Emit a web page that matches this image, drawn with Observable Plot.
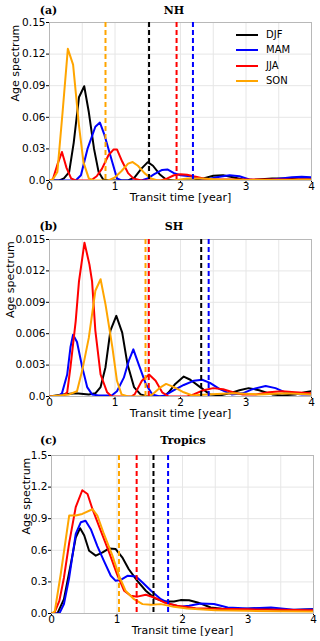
<!DOCTYPE html>
<html>
<head>
<meta charset="utf-8">
<script src="https://cdn.jsdelivr.net/npm/d3@7"></script>
<script src="https://cdn.jsdelivr.net/npm/@observablehq/plot@0.6"></script>
<style>
  html, body { margin: 0; padding: 0; background: #fff; }
  #root { position: relative; width: 320px; height: 641px; overflow: hidden; font-family: "DejaVu Sans", sans-serif; }
  .panel { position: absolute; left: 0; }
  .ttl { position: absolute; font-family: "DejaVu Serif", serif; font-weight: bold; font-size: 11px; line-height: 1; transform: translate(-50%, -50%); white-space: nowrap; }
  .legend { position: absolute; font-family: "DejaVu Sans", sans-serif; font-size: 10px; }
  .legend .row { position: absolute; left: 0; height: 12px; white-space: nowrap; }
</style>
</head>
<body>
<div id="root"></div>
<script>
// ---------- data ----------
const seasons = ["DJF", "MAM", "JJA", "SON"];
const seasonColors = ["#000000", "#0000ff", "#ff0000", "#ffa500"];

const xTicks = [0, 1, 2, 3, 4];
const xTickLabels = ["0", "1", "2", "3", "4"];
const xGrid = [0.5, 1, 1.5, 2, 2.5, 3, 3.5];

// Panel (a) NH
const nhYTicks = [0, 0.03, 0.06, 0.09, 0.12, 0.15];
const nhYTickLabels = ["0.0", "0.03", "0.06", "0.09", "0.12", "0.15"];
const nhDJF = [[0,0],[0.15,0],[0.22,0.002],[0.3,0.008],[0.37,0.036],[0.45,0.079],[0.53,0.0895],[0.6,0.065],[0.68,0.03],[0.75,0.008],[0.82,0.001],[0.9,0],[1.2,0],[1.3,0.003],[1.4,0.011],[1.5,0.0174],[1.58,0.014],[1.68,0.006],[1.78,0.001],[1.9,0],[2.2,0],[2.35,0.002],[2.5,0.0045],[2.65,0.005],[2.8,0.003],[2.95,0.001],[3.1,0.0005],[3.4,0.002],[3.6,0.002],[3.8,0.001],[4,0.001]];
const nhMAM = [[0,0],[0.4,0],[0.48,0.005],[0.58,0.03],[0.7,0.051],[0.77,0.055],[0.84,0.043],[0.96,0.017],[1.03,0.002],[1.1,0],[1.4,0],[1.5,0.002],[1.6,0.006],[1.72,0.010],[1.8,0.0105],[1.9,0.007],[2.0,0.005],[2.15,0.004],[2.3,0.002],[2.4,0.001],[2.55,0.003],[2.75,0.005],[2.9,0.004],[3.05,0.001],[3.2,0],[3.4,0.001],[3.7,0.003],[3.85,0.0035],[4,0.003]];
const nhJJA = [[0,0],[0.05,0.001],[0.12,0.015],[0.19,0.027],[0.26,0.012],[0.33,0.002],[0.4,0],[0.63,0],[0.72,0.004],[0.8,0.011],[0.9,0.024],[0.98,0.0295],[1.03,0.0295],[1.11,0.018],[1.2,0.007],[1.28,0.002],[1.4,0],[1.7,0],[1.8,0.002],[1.9,0.005],[2.0,0.006],[2.1,0.0055],[2.2,0.004],[2.35,0.002],[2.5,0.001],[3,0.001],[3.5,0.001],[4,0.001]];
const nhSON = [[0,0],[0.05,0.001],[0.12,0.008],[0.2,0.065],[0.28,0.125],[0.36,0.11],[0.45,0.052],[0.52,0.017],[0.6,0.002],[0.68,0],[0.9,0],[1.0,0.003],[1.1,0.009],[1.2,0.016],[1.27,0.0175],[1.35,0.014],[1.45,0.007],[1.55,0.002],[1.65,0],[1.9,0],[2.1,0.002],[2.3,0.002],[2.6,0.001],[3,0.0005],[4,0.0005]];
const nhMeans = [1.52, 2.19, 1.94, 0.855];

// Panel (b) SH
const shYTicks = [0, 0.003, 0.006, 0.009, 0.012, 0.015];
const shYTickLabels = ["0.0", "0.003", "0.006", "0.009", "0.012", "0.015"];
const shDJF = [[0,0],[0.1,0.0001],[0.2,0.0002],[0.4,0.0003],[0.6,0.0002],[0.7,0.0003],[0.78,0.0009],[0.855,0.0028],[0.93,0.0063],[1.02,0.0077],[1.11,0.0061],[1.19,0.0031],[1.29,0.0009],[1.39,0.0002],[1.5,0],[1.75,0],[1.82,0.0004],[1.92,0.0012],[2.05,0.0019],[2.15,0.0016],[2.3,0.0009],[2.45,0.0002],[2.6,0.0001],[2.75,0.0003],[2.9,0.0006],[3.04,0.0008],[3.2,0.0006],[3.4,0.0002],[3.55,0.0001],[3.75,0.0002],[3.9,0.0004],[4,0.0005]];
const shMAM = [[0,0],[0.12,0],[0.19,0.0003],[0.27,0.0021],[0.32,0.0047],[0.36,0.0059],[0.42,0.0052],[0.5,0.0028],[0.575,0.0009],[0.65,0.0002],[0.75,0.0001],[0.95,0.0001],[1.03,0.0005],[1.135,0.0018],[1.21,0.0034],[1.28,0.0045],[1.36,0.0031],[1.47,0.0012],[1.57,0.0002],[1.68,0],[1.76,0.0001],[1.9,0.0006],[2.05,0.0011],[2.2,0.0015],[2.33,0.0016],[2.45,0.0013],[2.6,0.0007],[2.78,0.0002],[2.95,0.0003],[3.1,0.0007],[3.3,0.001],[3.45,0.0008],[3.6,0.0004],[3.85,0.0002],[4,0.0002]];
const shJJA = [[0,0],[0.2,0],[0.27,0.0004],[0.32,0.0028],[0.40,0.0072],[0.45,0.011],[0.534,0.0147],[0.61,0.0126],[0.65,0.011],[0.70,0.0063],[0.78,0.0021],[0.88,0.0004],[0.95,0],[1.25,0],[1.3,0.0002],[1.41,0.0015],[1.52,0.0021],[1.62,0.0015],[1.72,0.0004],[1.82,0],[2.1,0],[2.2,0.0002],[2.35,0.0006],[2.5,0.0008],[2.65,0.0007],[2.8,0.0004],[2.95,0.0002],[3.15,0.0002],[3.35,0.0004],[3.55,0.0005],[3.75,0.0004],[4,0.0003]];
const shSON = [[0,0],[0.15,0.0001],[0.3,0.0002],[0.42,0.0005],[0.5,0.0025],[0.6,0.0056],[0.70,0.0101],[0.78,0.0112],[0.855,0.0088],[0.96,0.0047],[1.03,0.0015],[1.1,0.0002],[1.2,0],[1.5,0],[1.57,0.0002],[1.7,0.0009],[1.78,0.0012],[1.9,0.0009],[2.05,0.0004],[2.18,0.0001],[2.4,0.0002],[2.8,0.0003],[3.2,0.0002],[3.6,0.0003],[4,0.0002]];
const shMeans = [2.316, 2.43, 1.516, 1.466];

// Panel (c) Tropics
const trYTicks = [0, 0.3, 0.6, 0.9, 1.2, 1.5];
const trYTickLabels = ["0.0", "0.3", "0.6", "0.9", "1.2", "1.5"];
const trDJF = [[0,0],[0.09,0],[0.19,0.136],[0.295,0.47],[0.37,0.72],[0.437,0.81],[0.5,0.74],[0.574,0.596],[0.676,0.549],[0.78,0.58],[0.88,0.618],[0.98,0.612],[1.08,0.533],[1.18,0.42],[1.31,0.31],[1.44,0.216],[1.57,0.146],[1.72,0.114],[1.87,0.114],[1.97,0.127],[2.1,0.125],[2.23,0.105],[2.43,0.057],[2.6,0.045],[2.79,0.04],[3.0,0.045],[3.2,0.048],[3.55,0.032],[3.8,0.035],[4,0.04]];
const trMAM = [[0,0],[0.12,0],[0.19,0.09],[0.27,0.34],[0.37,0.755],[0.447,0.866],[0.52,0.88],[0.6,0.80],[0.70,0.64],[0.80,0.50],[0.905,0.358],[0.98,0.31],[1.05,0.317],[1.16,0.358],[1.29,0.352],[1.39,0.295],[1.52,0.216],[1.67,0.136],[1.82,0.089],[1.97,0.063],[2.1,0.073],[2.28,0.095],[2.48,0.09],[2.69,0.057],[3.0,0.048],[3.35,0.057],[3.7,0.035],[4,0.04]];
const trJJA = [[0,0],[0.04,0],[0.12,0.12],[0.19,0.34],[0.27,0.67],[0.37,1.01],[0.47,1.17],[0.55,1.135],[0.626,0.99],[0.75,0.79],[0.88,0.58],[1.0,0.374],[1.11,0.216],[1.21,0.168],[1.31,0.16],[1.44,0.178],[1.57,0.152],[1.72,0.105],[1.92,0.073],[2.2,0.05],[2.5,0.045],[3.0,0.04],[3.5,0.035],[4,0.03]];
const trSON = [[0,0],[0.05,0.02],[0.14,0.37],[0.27,0.93],[0.37,0.93],[0.47,0.945],[0.626,0.99],[0.70,0.93],[0.8,0.755],[0.93,0.55],[1.03,0.36],[1.13,0.216],[1.26,0.136],[1.39,0.089],[1.52,0.082],[1.67,0.089],[1.87,0.063],[2.07,0.048],[2.5,0.03],[3,0.025],[3.5,0.022],[4,0.02]];
const trMeans = [1.557, 1.78, 1.30, 1.03];

// ---------- drawing ----------
const root = document.getElementById("root");

function panel(cfg) {
  const lines = cfg.series.map((s, i) => s.map(([t, v]) => ({t, v, k: seasons[i]})));
  const means = cfg.means.map((m, i) => ({t: m, k: seasons[i]}));
  const color = {domain: seasons, range: seasonColors};
  const p = Plot.plot({
    width: 320,
    height: cfg.height,
    marginTop: cfg.mt,
    marginBottom: cfg.height - cfg.mt - cfg.ph,
    marginLeft: cfg.ml,
    marginRight: cfg.mr,
    style: {fontFamily: "DejaVu Sans, sans-serif", fontSize: "10.5px", color: "#000", background: "transparent", overflow: "visible"},
    color,
    x: {domain: [0, 4], ticks: xTicks, tickFormat: d => xTickLabels[xTicks.indexOf(d)], tickSize: 2, tickPadding: 0, label: null},
    y: {domain: [cfg.yTicks[0], cfg.yTicks[cfg.yTicks.length - 1]], ticks: cfg.yTicks,
        tickFormat: d => cfg.yLabels[cfg.yTicks.findIndex(v => Math.abs(v - d) < 1e-9)], tickSize: 3, tickPadding: 1, label: null},
    marks: [
      Plot.ruleX(xGrid, {x: d => d, stroke: "#e6e6e6", strokeWidth: 1}),
      Plot.ruleY(cfg.yTicks.slice(1, -1), {y: d => d, stroke: "#e6e6e6", strokeWidth: 1}),
      Plot.frame({stroke: "#b8b8b8", strokeWidth: 1}),
      ...lines.map(l => Plot.line(l, {x: "t", y: "v", stroke: "k", strokeWidth: 2, strokeLinejoin: "round", clip: true})),
      Plot.ruleX(means, {x: "t", stroke: "k", strokeWidth: 2, strokeDasharray: "5,3"}),
      Plot.text(["Transit time [year]"], {text: d => d, frameAnchor: "bottom", dy: 20.5, fontSize: 11, fill: "#000"}),
      Plot.text(["Age spectrum"], {text: d => d, frameAnchor: "left", dx: cfg.ylabDx, rotate: -90, fontSize: 11, fill: "#000"})
    ]
  });
  const wrap = document.createElement("div");
  wrap.className = "panel";
  wrap.style.top = cfg.top + "px";
  wrap.appendChild(p);
  root.appendChild(wrap);

  const t1 = document.createElement("div");
  t1.className = "ttl";
  t1.textContent = cfg.tag;
  t1.style.left = "48.5px";
  t1.style.top = cfg.titleY + "px";
  root.appendChild(t1);
  const t2 = document.createElement("div");
  t2.className = "ttl";
  t2.textContent = cfg.title;
  t2.style.left = cfg.titleX + "px";
  t2.style.top = cfg.titleY + "px";
  root.appendChild(t2);
}

panel({top: 0, height: 210, mt: 22, ph: 158, ml: 49, mr: 9, yTicks: nhYTicks, yLabels: nhYTickLabels,
       series: [nhDJF, nhMAM, nhJJA, nhSON], means: nhMeans, ylabDx: -34,
       tag: "(a)", title: "NH", titleX: 174, titleY: 10});
panel({top: 210, height: 215, mt: 29, ph: 157, ml: 49, mr: 9, yTicks: shYTicks, yLabels: shYTickLabels,
       series: [shDJF, shMAM, shJJA, shSON], means: shMeans, ylabDx: -39,
       tag: "(b)", title: "SH", titleX: 174, titleY: 226});
panel({top: 425, height: 216, mt: 30, ph: 158, ml: 51, mr: 7, yTicks: trYTicks, yLabels: trYTickLabels,
       series: [trDJF, trMAM, trJJA, trSON], means: trMeans, ylabDx: -25,
       tag: "(c)", title: "Tropics", titleX: 183, titleY: 440});

// legend (panel a)
const lg = document.createElement("div");
lg.className = "legend";
lg.style.left = "236px";
lg.style.top = "29px";
seasons.forEach((s, i) => {
  const r = document.createElement("div");
  r.className = "row";
  r.style.top = (i * 15.3) + "px";
  r.innerHTML = `<svg width="24" height="12" style="position:absolute;left:0;top:0"><line x1="0" x2="22" y1="6" y2="6" stroke="${seasonColors[i]}" stroke-width="2"/></svg><span style="position:absolute;left:30px;top:0;line-height:12px">${s}</span>`;
  lg.appendChild(r);
});
root.appendChild(lg);
</script>
</body>
</html>
